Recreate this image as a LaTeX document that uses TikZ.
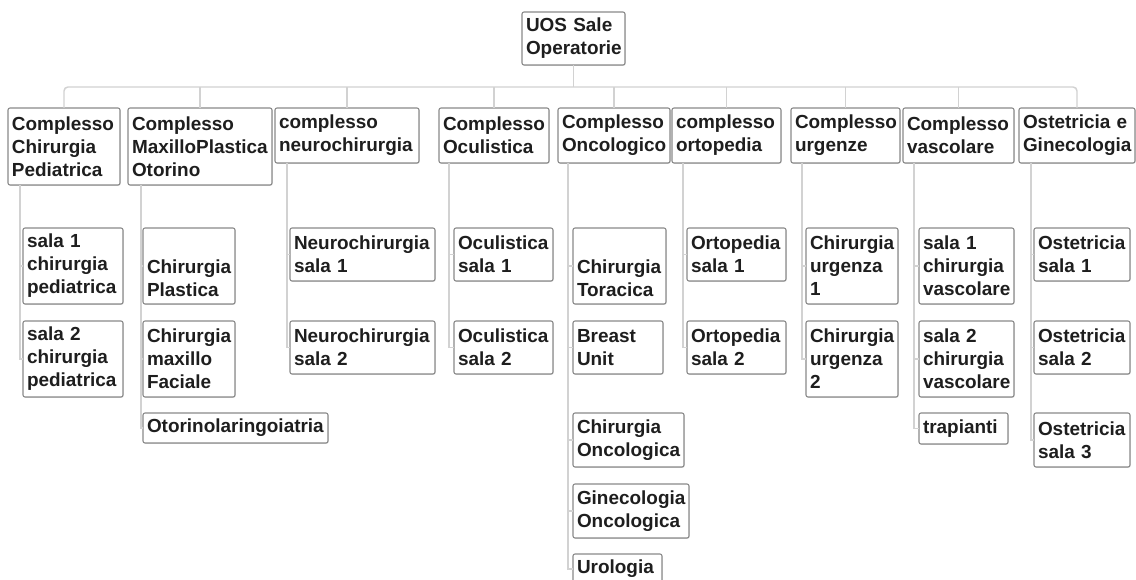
\documentclass[tikz,border=0pt]{standalone}
\usepackage{fontspec}
\setmainfont{Liberation Sans}
\usetikzlibrary{shadows}
\definecolor{boxline}{HTML}{8A8A8A}
\definecolor{connline}{HTML}{D2D2D2}
\definecolor{txt}{HTML}{1E1E1E}
\tikzset{
  bx/.style={draw=boxline, line width=0.8pt, rounded corners=1.5pt, fill=white,
    inner xsep=3pt, inner ysep=3pt, outer sep=0pt, align=left, text=txt,
    font=\bfseries\fontsize{14.2pt}{17.25pt}\selectfont,
    drop shadow={shadow xshift=0.5pt, shadow yshift=-0.6pt, opacity=0.25}},
  conn/.style={draw=connline, line width=1.1pt},
}
\newcommand{\bx}[6]{%
  \pgfmathsetmacro\bxw{(#4-#2)*0.75}%
  \pgfmathsetmacro\bxt{(#4-#2)*0.75-6}%
  \pgfmathsetmacro\bxh{(#5-#3)*0.75}%
  \node[bx, text width=\bxt pt, minimum width=\bxw pt, minimum height=\bxh pt, anchor=north west] (#1) at (#2,#3) {#6};}
\begin{document}
\begin{tikzpicture}[x=0.75pt,y=-0.75pt]
\useasboundingbox (0,0) rectangle (1136,580);
\fill[white] (0,0) rectangle (1136,580);
\coordinate (busc) at (0,87);
% boxes
\bx{root}{522}{12}{625}{65}{UOS Sale\\Operatorie}
\bx{b1}{8}{108}{120}{185}{Complesso\\Chirurgia\\Pediatrica}
\bx{b2}{128}{108}{272}{185}{Complesso\\MaxilloPlastica\\Otorino}
\bx{b3}{275}{108}{419}{163}{complesso\\neurochirurgia}
\bx{b4}{439}{108}{549}{163}{Complesso\\Oculistica}
\bx{b5}{558}{108}{670}{163}{Complesso\\Oncologico}
\bx{b6}{672}{108}{781}{163}{complesso\\ortopedia}
\bx{b7}{791}{108}{900}{163}{Complesso\\urgenze}
\bx{b8}{903}{108}{1014}{163}{Complesso\\vascolare}
\bx{b9}{1019}{108}{1135}{163}{Ostetricia e\\Ginecologia}
% children
\bx{c11}{23}{228}{123}{304}{sala 1\\chirurgia\\pediatrica}
\bx{c12}{23}{321}{123}{397}{sala 2\\chirurgia\\pediatrica}
\bx{c21}{143}{228}{235}{304}{\strut\\Chirurgia\\Plastica}
\bx{c22}{143}{321}{235}{397}{Chirurgia\\maxillo\\Faciale}
\bx{c23}{143}{413}{328}{443}{Otorinolaringoiatria}
\bx{c31}{290}{228}{435}{281}{Neurochirurgia\\sala 1}
\bx{c32}{290}{321}{435}{374}{Neurochirurgia\\sala 2}
\bx{c41}{454}{228}{553}{281}{Oculistica\\sala 1}
\bx{c42}{454}{321}{553}{374}{Oculistica\\sala 2}
\bx{c51}{573}{228}{666}{304}{\strut\\Chirurgia\\Toracica}
\bx{c52}{573}{321}{663}{374}{Breast\\Unit}
\bx{c53}{573}{413}{684}{467}{Chirurgia\\Oncologica}
\bx{c54}{573}{484}{689}{538}{Ginecologia\\Oncologica}
\bx{c55}{573}{554}{662}{584}{Urologia}
\bx{c61}{687}{228}{786}{281}{Ortopedia\\sala 1}
\bx{c62}{687}{321}{786}{374}{Ortopedia\\sala 2}
\bx{c71}{806}{228}{898}{304}{Chirurgia\\urgenza\\1}
\bx{c72}{806}{321}{898}{397}{Chirurgia\\urgenza\\2}
\bx{c81}{919}{228}{1014}{304}{sala 1\\chirurgia\\vascolare}
\bx{c82}{919}{321}{1014}{397}{sala 2\\chirurgia\\vascolare}
\bx{c83}{919}{413}{1008}{444}{trapianti}
\bx{c91}{1034}{228}{1130}{281}{Ostetricia\\sala 1}
\bx{c92}{1034}{321}{1130}{374}{Ostetricia\\sala 2}
\bx{c93}{1034}{413}{1130}{467}{Ostetricia\\sala 3}
% top-level connectors
\draw[conn, rounded corners=3pt] (b1.north) -- (b1.north |- busc) -- (b9.north |- busc) -- (b9.north);
\draw[conn] (root.south) -- (root.south |- busc);
\foreach \b in {b2,b3,b4,b5,b6,b7,b8} \draw[conn] (\b.north) -- (\b.north |- busc);
% trunks
\coordinate (t1) at (20,185);
\coordinate (t2) at (141,185);
\coordinate (t3) at (287,163);
\coordinate (t4) at (449,163);
\coordinate (t5) at (568,163);
\coordinate (t6) at (683,163);
\coordinate (t7) at (802,163);
\coordinate (t8) at (914,163);
\coordinate (t9) at (1031,163);
\foreach \c in {c11,c12} \draw[conn] (t1) |- (\c.west);
\foreach \c in {c21,c22,c23} \draw[conn] (t2) |- (\c.west);
\foreach \c in {c31,c32} \draw[conn] (t3) |- (\c.west);
\foreach \c in {c41,c42} \draw[conn] (t4) |- (\c.west);
\foreach \c in {c51,c52,c53,c54,c55} \draw[conn] (t5) |- (\c.west);
\foreach \c in {c61,c62} \draw[conn] (t6) |- (\c.west);
\foreach \c in {c71,c72} \draw[conn] (t7) |- (\c.west);
\foreach \c in {c81,c82,c83} \draw[conn] (t8) |- (\c.west);
\foreach \c in {c91,c92,c93} \draw[conn] (t9) |- (\c.west);
\end{tikzpicture}
\end{document}
